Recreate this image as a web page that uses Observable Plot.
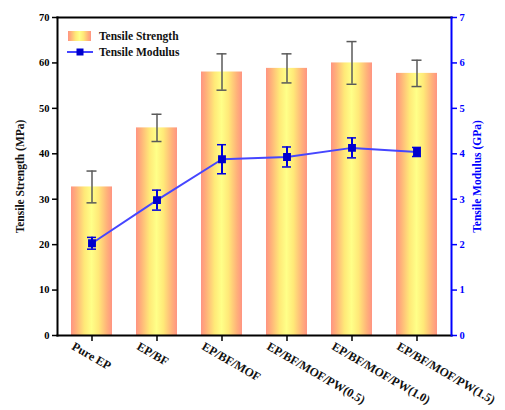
<!DOCTYPE html>
<html>
<head>
<meta charset="utf-8">
<script src="https://cdn.jsdelivr.net/npm/d3@7"></script>
<script src="https://cdn.jsdelivr.net/npm/@observablehq/plot@0.6"></script>
<style>
  html, body { margin: 0; padding: 0; background: #fff; }
</style>
</head>
<body>
<div id="chart"></div>
<script>
const categories = ["Pure EP", "EP/BF", "EP/BF/MOF", "EP/BF/MOF/PW(0.5)", "EP/BF/MOF/PW(1.0)", "EP/BF/MOF/PW(1.5)"];
const strength = [32.7, 45.7, 58.0, 58.8, 60.0, 57.7];
const strengthErr = [3.5, 3.0, 4.0, 3.2, 4.7, 2.9];
const modulus = [2.03, 2.98, 3.88, 3.93, 4.13, 4.04];
const modulusErr = [0.13, 0.22, 0.32, 0.22, 0.22, 0.10];
const leftTicks = [0, 10, 20, 30, 40, 50, 60, 70];
const rightTicks = [0, 1, 2, 3, 4, 5, 6, 7];

const data = categories.map((c, i) => ({
  cat: c, s: strength[i], se: strengthErr[i], m: modulus[i], me: modulusErr[i]
}));
const blue = "#0000ff";
const lineBlue = "#4646ff";
const font = "'Liberation Serif', 'DejaVu Serif', serif";

const chart = Plot.plot({
  width: 505,
  height: 410,
  marginLeft: 57,
  marginRight: 54,
  marginTop: 17,
  marginBottom: 75,
  style: { fontFamily: font, fontWeight: "bold", background: "#fff" },
  x: { domain: categories, paddingInner: 0.375, paddingOuter: 0.1875, axis: null },
  y: { domain: [0, 70], axis: null },
  marks: [
    Plot.barY(data, { x: "cat", y: "s", fill: "url(#barGrad)" }),
    Plot.ruleX(data, { x: "cat", y1: d => d.s - d.se, y2: d => d.s + d.se, stroke: "#5a5a5a", strokeWidth: 1.5 }),
    Plot.tickY(data, { x: "cat", y: d => d.s + d.se, stroke: "#5a5a5a", strokeWidth: 1.5, insetLeft: 15.5, insetRight: 15.5 }),
    Plot.tickY(data, { x: "cat", y: d => d.s - d.se, stroke: "#5a5a5a", strokeWidth: 1.5, insetLeft: 15.5, insetRight: 15.5 }),
    Plot.line(data, { x: "cat", y: d => d.m * 10, stroke: lineBlue, strokeWidth: 2 }),
    Plot.ruleX(data, { x: "cat", y1: d => (d.m - d.me) * 10, y2: d => (d.m + d.me) * 10, stroke: "#0000dd", strokeWidth: 2 }),
    Plot.tickY(data, { x: "cat", y: d => (d.m + d.me) * 10, stroke: "#0000dd", strokeWidth: 1.5, insetLeft: 16, insetRight: 16 }),
    Plot.tickY(data, { x: "cat", y: d => (d.m - d.me) * 10, stroke: "#0000dd", strokeWidth: 1.5, insetLeft: 16, insetRight: 16 }),
    Plot.dot(data, { x: "cat", y: d => d.m * 10, symbol: "square", r: 3.6, fill: "#0000cc", stroke: "#0000cc" }),
    Plot.axisY({ anchor: "left", ticks: leftTicks, tickSize: 5, tickPadding: 3, fontSize: 10.5, fontWeight: "bold", label: null, strokeWidth: 1.5 }),
    Plot.axisY({ anchor: "right", ticks: rightTicks.map(v => v * 10), tickFormat: d => d / 10, tickSize: 5, tickPadding: 3, fontSize: 10.5, fontWeight: "bold", stroke: blue, fill: blue, color: blue, label: null, strokeWidth: 1.5 }),
    Plot.axisX({ tickSize: 6, tickFormat: () => "", label: null, strokeWidth: 1.5 }),
    Plot.text(categories, { x: d => d, text: d => d, frameAnchor: "bottom", rotate: 30, textAnchor: "start", lineAnchor: "middle", dx: -19, dy: 10, fontSize: 12, fontWeight: "bold", fill: "#111" }),
    Plot.text(["Tensile Strength (MPa)"], { text: d => d, frameAnchor: "left", rotate: -90, textAnchor: "middle", dx: -37, fontSize: 11.5, fontWeight: "bold", fill: "#111" }),
    Plot.text(["Tensile Modulus (GPa)"], { text: d => d, frameAnchor: "right", rotate: -90, textAnchor: "middle", dx: 26, fontSize: 11.5, fontWeight: "bold", fill: blue }),
    Plot.frame({ anchor: "top", stroke: "#000", strokeWidth: 2 }),
    Plot.frame({ anchor: "left", stroke: "#000", strokeWidth: 2 }),
    Plot.frame({ anchor: "bottom", stroke: "#000", strokeWidth: 2 }),
    Plot.frame({ anchor: "right", stroke: blue, strokeWidth: 2 })
  ]
});

const svg = d3.select(chart);
const defs = svg.insert("defs", ":first-child");
const grad = defs.append("linearGradient").attr("id", "barGrad")
  .attr("x1", "0%").attr("x2", "100%").attr("y1", "0%").attr("y2", "0%");
[[0, "#ff9482"], [0.12, "#ffb07a"], [0.33, "#ffe978"], [0.5, "#ffff88"], [0.67, "#ffe978"], [0.88, "#ffb07a"], [1, "#ff9482"]]
  .forEach(([o, c]) => grad.append("stop").attr("offset", o).attr("stop-color", c));

// Legend inside the plot area (top-left)
const lg = svg.append("g").attr("font-family", font).attr("font-weight", "bold")
  .attr("font-size", 11.5).attr("text-anchor", "start");
lg.append("rect").attr("x", 68).attr("y", 31).attr("width", 23).attr("height", 10).attr("fill", "url(#barGrad)");
lg.append("text").attr("x", 99).attr("y", 36).attr("dy", "0.35em").attr("fill", "#111").text("Tensile Strength");
lg.append("line").attr("x1", 67).attr("x2", 93).attr("y1", 52).attr("y2", 52).attr("stroke", lineBlue).attr("stroke-width", 2);
lg.append("rect").attr("x", 76.5).attr("y", 48.5).attr("width", 7).attr("height", 7).attr("fill", "#0000cc");
lg.append("text").attr("x", 99).attr("y", 52).attr("dy", "0.35em").attr("fill", "#111").text("Tensile Modulus");

document.getElementById("chart").appendChild(chart);
</script>
</body>
</html>
